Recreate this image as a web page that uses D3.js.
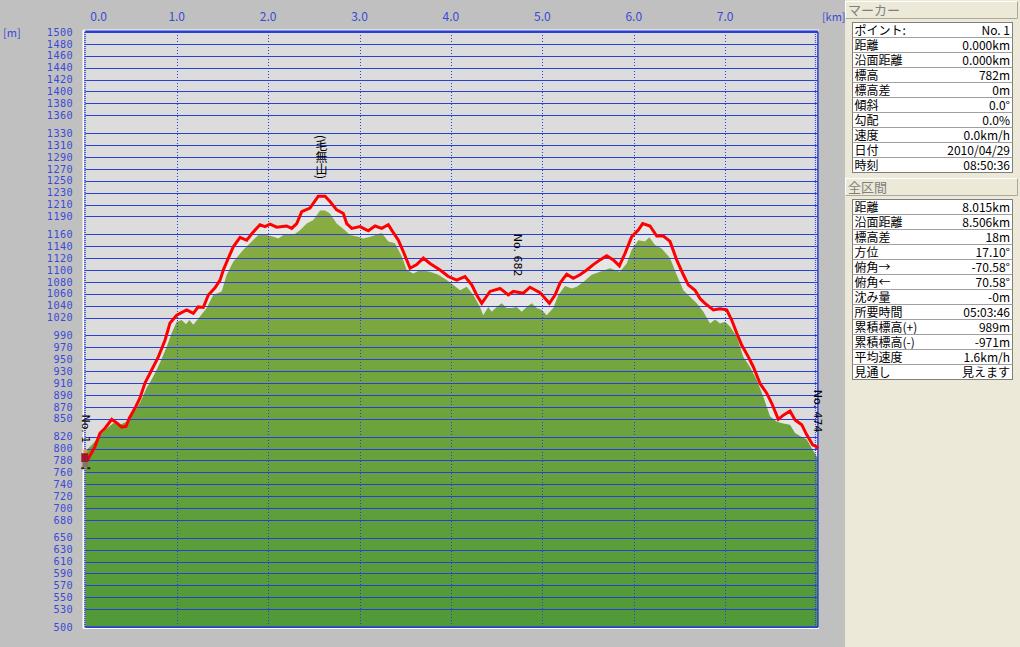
<!DOCTYPE html>
<html><head><meta charset="utf-8">
<script src="https://cdn.jsdelivr.net/npm/d3@7"></script>
<style>
html,body{margin:0;padding:0;background:#c0c0c0;}
svg{display:block;}
</style></head>
<body>
<svg id="chart" width="1020" height="647"></svg>
<script>
// ---- data ----
const xTicks = [0,1,2,3,4,5,6,7];
const xTickLabels = ["0.0","1.0","2.0","3.0","4.0","5.0","6.0","7.0"];
const yTicks = [1500,1480,1460,1440,1420,1400,1380,1360,1330,1310,1290,1270,1250,1230,1210,1190,
  1160,1140,1120,1100,1080,1060,1040,1020,990,970,950,930,910,890,870,850,820,800,780,760,740,720,700,680,
  650,630,610,590,570,550,530,500];
// GPS track (km, m)
const trackKm = [0,0.033,0.106,0.161,0.216,0.289,0.344,0.398,0.445,0.481,0.544,0.598,0.653,0.726,0.799,0.872,0.927,1.000,1.109,1.182,1.236,1.291,1.346,1.419,1.474,1.510,1.565,1.619,1.693,1.766,1.838,1.911,1.966,2.021,2.094,2.203,2.258,2.313,2.368,2.458,2.549,2.623,2.677,2.750,2.823,2.860,2.915,3.005,3.096,3.170,3.243,3.315,3.352,3.425,3.479,3.553,3.626,3.698,3.771,3.881,3.972,4.063,4.154,4.228,4.282,4.337,4.428,4.537,4.628,4.683,4.792,4.865,4.975,5.077,5.139,5.194,5.267,5.339,5.412,5.486,5.558,5.631,5.704,5.777,5.843,5.905,5.978,6.050,6.098,6.178,6.252,6.324,6.397,6.470,6.543,6.597,6.671,6.725,6.780,6.871,6.944,7.017,7.072,7.127,7.181,7.254,7.309,7.382,7.455,7.510,7.582,7.637,7.710,7.765,7.838,7.893,7.958,8.000,8.015];
const trackElev = [782,783,803,826,834,849,843,836,837,851,868,885,910,932,954,982,1011,1024,1033,1027,1038,1037,1058,1070,1083,1100,1120,1139,1155,1150,1164,1176,1173,1177,1172,1174,1170,1178,1198,1204,1224,1224,1215,1201,1195,1178,1170,1173,1166,1174,1170,1176,1167,1150,1131,1103,1109,1120,1111,1100,1089,1083,1089,1075,1058,1044,1064,1069,1058,1064,1061,1071,1062,1044,1058,1078,1093,1086,1092,1100,1109,1117,1124,1117,1107,1128,1156,1167,1178,1174,1157,1157,1148,1117,1092,1075,1066,1052,1044,1033,1035,1033,1016,994,974,954,937,909,893,876,849,856,863,848,840,823,806,803,800];
// terrain profile (km, m)
const terrainKm = [0,0.088,0.161,0.234,0.306,0.380,0.453,0.525,0.598,0.672,0.744,0.817,0.891,0.945,1.000,1.055,1.102,1.138,1.182,1.255,1.328,1.400,1.492,1.547,1.619,1.729,1.802,1.893,1.985,2.057,2.112,2.166,2.276,2.349,2.422,2.495,2.568,2.623,2.677,2.750,2.841,2.896,2.987,3.042,3.115,3.243,3.315,3.388,3.462,3.516,3.589,3.662,3.771,3.862,3.954,4.026,4.100,4.173,4.245,4.318,4.354,4.409,4.446,4.501,4.556,4.610,4.665,4.720,4.775,4.829,4.884,4.939,4.993,5.048,5.120,5.175,5.248,5.322,5.376,5.449,5.540,5.631,5.740,5.849,5.923,5.978,6.050,6.123,6.171,6.233,6.306,6.397,6.470,6.543,6.616,6.689,6.762,6.835,6.890,6.944,6.999,7.053,7.127,7.199,7.272,7.346,7.418,7.491,7.565,7.637,7.710,7.765,7.819,7.893,7.958,8.000,8.015];
const terrainElev = [795,809,823,833,843,840,845,859,877,902,921,944,971,994,1013,1016,1009,1016,1008,1022,1036,1058,1064,1092,1114,1134,1145,1159,1159,1156,1153,1159,1159,1167,1178,1184,1200,1200,1195,1178,1167,1159,1156,1153,1156,1162,1148,1145,1123,1100,1094,1100,1097,1092,1083,1075,1066,1072,1058,1038,1024,1038,1030,1038,1044,1036,1036,1038,1030,1038,1044,1036,1033,1024,1036,1058,1073,1069,1072,1080,1092,1097,1103,1097,1111,1134,1150,1148,1155,1142,1136,1120,1092,1066,1055,1044,1030,1010,1017,1010,1013,1005,988,954,937,915,887,854,845,842,840,826,821,815,798,787,785];
// point labels on the profile
const pointLabels = ["No. 1","No. 682","No. 474"];
const pointKm = [0, 4.73, 8.015];
const pointElev = [782, 1062, 800];
const peakName = "(毛無山)";
const peakKm = 2.584, peakElev = 1226;
// side panel
const markerTitle = "マーカー";
const markerKeys = ["ポイント:","距離","沿面距離","標高","標高差","傾斜","勾配","速度","日付","時刻"];
const markerVals = ["No. 1","0.000km","0.000km","782m","0m","0.0°","0.0%","0.0km/h","2010/04/29","08:50:36"];
const totalTitle = "全区間";
const totalKeys = ["距離","沿面距離","標高差","方位","俯角→","俯角←","沈み量","所要時間","累積標高(+)","累積標高(-)","平均速度","見通し"];
const totalVals = ["8.015km","8.506km","18m","17.10°","-70.58°","70.58°","-0m","05:03:46","989m","-971m","1.6km/h","見えます"];

// ---- drawing ----
const svg = d3.select("#chart");
const AX = "#3a4ad6", GRID = "#2a3ed8";
const FONT = "'Noto Sans CJK JP', 'DejaVu Sans', sans-serif";
const MONO = "'DejaVu Sans Mono', monospace";
const x = d3.scaleLinear().domain([0, 8.015]).range([85.3, 817.9]);
const y = d3.scaleLinear().domain([500, 1500]).range([627, 32]);
const X0 = x.range()[0], X1 = x.range()[1], Y0 = y(500), Y1 = y(1500);

svg.append("rect").attr("width",1020).attr("height",647).attr("fill","#c0c0c0");

const defs = svg.append("defs");
const g1 = defs.append("linearGradient").attr("id","terrain").attr("gradientUnits","userSpaceOnUse")
  .attr("x1",0).attr("x2",0).attr("y1",y(1230)).attr("y2",y(500));
g1.append("stop").attr("offset",0).attr("stop-color","#8dad44");
g1.append("stop").attr("offset",1).attr("stop-color","#4f9a37");

// plot background
svg.append("rect").attr("x",X0).attr("y",Y1).attr("width",X1-X0).attr("height",Y0-Y1).attr("fill","#dcdcdc");

const track = trackKm.map((k,i)=>({k, e: trackElev[i]}));
const terrain = terrainKm.map((k,i)=>({k, e: terrainElev[i]}));

// light band below track
svg.append("path").datum(track)
  .attr("d", d3.area().x(d=>x(d.k)).y0(Y0).y1(d=>y(d.e)))
  .attr("fill","#e6e6e6");
// terrain
svg.append("path").datum(terrain)
  .attr("d", d3.area().x(d=>x(d.k)).y0(Y0).y1(d=>y(d.e)))
  .attr("fill","url(#terrain)");

// horizontal grid
svg.append("g").selectAll("line").data(yTicks).join("line")
  .attr("x1",X0).attr("x2",X1)
  .attr("y1",d=>Math.round(y(d))+0.5).attr("y2",d=>Math.round(y(d))+0.5)
  .attr("stroke",GRID).attr("stroke-width",1);
// vertical dotted grid
svg.append("g").selectAll("line").data(xTicks.slice(1)).join("line")
  .attr("x1",d=>Math.round(x(d))+0.5).attr("x2",d=>Math.round(x(d))+0.5)
  .attr("y1",Y1).attr("y2",Y0)
  .attr("stroke",GRID).attr("stroke-width",1).attr("stroke-dasharray","1,2");

// border
svg.append("line").attr("x1",X0-2).attr("x2",X0-2).attr("y1",Y1-2).attr("y2",Y0+1).attr("stroke","#ffffff").attr("stroke-width",1.5);
svg.append("line").attr("x1",X0-2).attr("x2",X1+1).attr("y1",Y1-2).attr("y2",Y1-2).attr("stroke","#ffffff").attr("stroke-width",1);
svg.append("line").attr("x1",X0).attr("x2",X1).attr("y1",Y1-0.5).attr("y2",Y1-0.5).attr("stroke",GRID).attr("stroke-width",2);
svg.append("line").attr("x1",X0-0.3).attr("x2",X0-0.3).attr("y1",Y1).attr("y2",Y0).attr("stroke",GRID).attr("stroke-width",1.5).attr("stroke-dasharray","1,1");
svg.append("line").attr("x1",X1).attr("x2",X1).attr("y1",Y1).attr("y2",Y0).attr("stroke",GRID).attr("stroke-width",1.5);
svg.append("line").attr("x1",X1-2.5).attr("x2",X1-2.5).attr("y1",Y1).attr("y2",Y0).attr("stroke",GRID).attr("stroke-width",1).attr("stroke-dasharray","1,1");
svg.append("line").attr("x1",X0).attr("x2",X1).attr("y1",Y0).attr("y2",Y0).attr("stroke",GRID).attr("stroke-width",1.5);
svg.append("line").attr("x1",X0-2).attr("x2",X1+1).attr("y1",Y0+1.5).attr("y2",Y0+1.5).attr("stroke","#ffffff").attr("stroke-width",1);

// track line
svg.append("path").datum(track)
  .attr("d", d3.line().x(d=>x(d.k)).y(d=>y(d.e)))
  .attr("fill","none").attr("stroke","#ff0000").attr("stroke-width",3).attr("stroke-linejoin","miter");

// axes labels
svg.append("g").selectAll("text").data(yTicks).join("text")
  .attr("x",73).attr("y",d=>y(d)).attr("dy","0.36em").attr("text-anchor","end")
  .attr("font-family",MONO).attr("font-size",10.2).attr("letter-spacing",0.4).attr("fill",AX).text(d=>d);
svg.append("text").attr("x",3).attr("y",Y1+5).attr("font-family",FONT).attr("font-size",11).attr("fill",AX).text("[m]");
svg.append("g").selectAll("text").data(xTicks).join("text")
  .attr("x",(d,i)=> i===0 ? x(d)+5 : x(d)).attr("y",21)
  .attr("text-anchor",(d,i)=> i===0 ? "start" : "middle")
  .attr("font-family",FONT).attr("font-size",12).attr("fill",AX).text((d,i)=>xTickLabels[i]);
svg.append("text").attr("x",X1+4).attr("y",21).attr("font-family",FONT).attr("font-size",11).attr("fill",AX).text("[km]");

// point labels (rotated)
pointLabels.forEach((t,i)=>{
  const px = x(pointKm[i]), py = y(pointElev[i]) - 16;
  svg.append("text").attr("transform",`translate(${px},${py}) rotate(90)`)
    .attr("text-anchor","end").attr("dominant-baseline","central")
    .attr("font-family","'DejaVu Sans', sans-serif").attr("font-size",11).attr("fill","#000").text(t);
});
// peak name (vertical)
svg.append("text").attr("x",x(peakKm)).attr("y",y(peakElev)-16)
  .attr("style","writing-mode: vertical-rl;")
  .attr("text-anchor","end")
  .attr("font-family",FONT).attr("font-size",12).attr("fill","#000").text(peakName);

// hiker sprite at start
const hx = x(trackKm[0]), hy = y(trackElev[0]);
const hk = svg.append("g").attr("transform",`translate(${hx},${hy})`);
hk.append("rect").attr("x",-2).attr("y",-10).attr("width",4).attr("height",4).attr("fill","#e8944a");
hk.append("rect").attr("x",-4).attr("y",-6).attr("width",7).attr("height",9).attr("fill","#9c1a2c");
hk.append("rect").attr("x",-3).attr("y",3).attr("width",6).attr("height",5).attr("fill","#8a7562");
hk.append("rect").attr("x",-4).attr("y",8).attr("width",3).attr("height",2).attr("fill","#222");
hk.append("rect").attr("x",2).attr("y",8).attr("width",3).attr("height",2).attr("fill","#222");

// ---- side panel ----
const PX = 845;
svg.append("rect").attr("x",PX).attr("y",0).attr("width",1020-PX).attr("height",647).attr("fill","#ece9d8");
function header(title, top){
  svg.append("rect").attr("x",PX+0.5).attr("y",top+0.5).attr("width",1020-PX-3).attr("height",17)
    .attr("fill","#ece9d8").attr("stroke","#ffffff");
  svg.append("line").attr("x1",PX+0.5).attr("x2",1017.5).attr("y1",top+17.5).attr("y2",top+17.5).attr("stroke","#aca899");
  svg.append("line").attr("x1",1017.5).attr("x2",1017.5).attr("y1",top+0.5).attr("y2",top+17.5).attr("stroke","#aca899");
  svg.append("text").attr("x",PX+3).attr("y",top+14).attr("font-family",FONT).attr("font-size",13)
    .attr("fill","#7f7f7f").text(title);
}
function table(keys, vals, top){
  const L = 852.5, R = 1012.5, RH = 15;
  const g = svg.append("g");
  g.append("rect").attr("x",L).attr("y",top).attr("width",R-L).attr("height",RH*keys.length)
    .attr("fill","#ffffff").attr("stroke","#7f7f7f");
  keys.forEach((k,i)=>{
    const ry = top + i*RH;
    if(i>0) g.append("line").attr("x1",L).attr("x2",R).attr("y1",ry).attr("y2",ry).attr("stroke","#a0a0a0");
    g.append("text").attr("x",L+2).attr("y",ry+12).attr("font-family",FONT).attr("font-size",12)
      .attr("fill","#000").text(k);
    g.append("text").attr("x",R-2.5).attr("y",ry+12).attr("text-anchor","end").attr("font-family",FONT)
      .attr("font-size",12).attr("fill","#000").text(vals[i]);
  });
}
header(markerTitle, 1);
table(markerKeys, markerVals, 22.5);
header(totalTitle, 178);
table(totalKeys, totalVals, 199.5);
</script>
</body></html>
